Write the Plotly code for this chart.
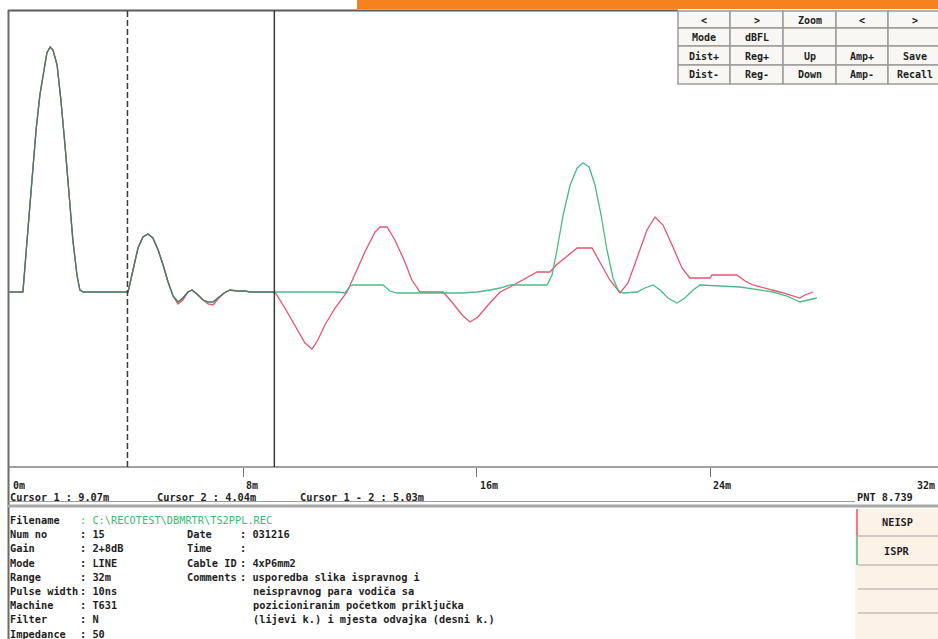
import plotly.graph_objects as go

# ---------------- data ----------------
dist_ispr = [0, 0.46, 0.63, 0.80, 0.91, 1.04, 1.18, 1.28, 1.39, 1.49, 1.63, 1.76, 1.90, 2.04, 2.17, 2.31, 2.41, 2.52,
             4.06, 4.23, 4.40, 4.57, 4.74, 4.91, 5.09, 5.26, 5.43, 5.60, 5.77, 5.94, 6.11, 6.25, 6.42, 6.63, 6.80, 6.97,
             7.14, 7.35, 7.55, 7.79, 8.07, 8.24, 9.09,
             11.22, 11.49, 11.66, 11.76, 12.79, 13.03, 13.27, 15.43, 16.01, 16.46, 16.80, 17.14, 18.41, 18.58, 18.75,
             18.96, 19.20, 19.44, 19.64, 19.85, 20.05, 20.26, 20.46, 20.67, 20.84, 21.01, 21.49, 21.76, 22.04, 22.28,
             22.55, 22.86, 23.13, 23.41, 23.65, 25.02, 25.70, 26.15, 26.63, 27.07, 27.35, 27.65]
amp_ispr = [0, 0, 62, 122, 162, 197, 224, 239, 245, 242, 227, 192, 147, 97, 52, 17, 2, 0,
            0, 22, 44, 55, 58, 54, 42, 27, 10, -4, -10, -6, 0, 2, -2, -8, -10, -10,
            -6, -1, 2, 1, 1, 0, 0,
            0, -1, 6, 7, 7, 1, -1, -1, 0, 2, 4, 7, 7, 17, 42,
            77, 107, 124, 129, 125, 107, 77, 42, 14, 2, -1, 0, 4, 7, 2,
            -6, -11, -6, 2, 7, 5, 2, 0, -4, -10, -8, -6]

dist_neisp = [0, 0.46, 0.63, 0.80, 0.91, 1.04, 1.18, 1.28, 1.39, 1.49, 1.63, 1.76, 1.90, 2.04, 2.17, 2.31, 2.41, 2.52,
              4.06, 4.23, 4.40, 4.57, 4.74, 4.91, 5.09, 5.26, 5.43, 5.60, 5.77, 5.94, 6.11, 6.25, 6.42, 6.63, 6.80, 6.97,
              7.14, 7.35, 7.55, 7.79, 8.07, 8.24, 9.09,
              9.43, 9.78, 10.12, 10.36, 10.56, 10.80, 11.15, 11.56, 11.83, 12.17, 12.52, 12.69, 12.93, 13.20, 13.54,
              13.78, 14.06, 14.85, 15.15, 15.50, 15.77, 16.04, 16.39, 16.80, 17.14, 17.59, 18.07, 18.51, 18.72, 19.02,
              19.44, 19.95, 20.22, 20.56, 20.91, 21.18, 21.49, 21.83, 22.11, 22.38, 22.69, 23.03, 23.30, 23.99, 24.06,
              24.91, 25.19, 25.46, 26.39, 27.07, 27.24, 27.52]
amp_neisp = [0, 0, 62, 122, 162, 197, 224, 239, 245, 242, 227, 192, 147, 97, 52, 17, 2, 0,
             0, 22, 44, 55, 58, 54, 42, 27, 10, -4, -12, -8, 0, 2, -2, -8, -12, -13,
             -7, -1, 2, 1, 1, 0, 0,
             -16, -34, -51, -57, -48, -33, -16, 0, 17, 40, 60, 65, 65, 52, 30,
             12, 0, 0, -10, -23, -30, -25, -13, 0, 5, 12, 20, 20, 27, 34,
             44, 44, 30, 12, -1, 9, 34, 62, 75, 67, 47, 24, 14, 14, 17,
             17, 11, 7, 0, -6, -3, 0]

cursor_1_m = 9.07
cursor_2_m = 4.04
tick_vals = [0, 8, 16, 24, 32]
tick_text = ["0m", "8m", "16m", "24m", "32m"]
cursor_texts = ["Cursor 1 : 9.07m", "Cursor 2 : 4.04m", "Cursor 1 - 2 : 5.03m"]
info_left_labels = ["Filename", "Num no", "Gain", "Mode", "Range", "Pulse width", "Machine", "Filter", "Impedance"]
info_left_values = [": C:\\RECOTEST\\DBMRTR\\TS2PPL.REC", ": 15", ": 2+8dB", ": LINE", ": 32m", ": 10ns",
                    ": T631", ": N", ": 50"]
info_right_labels = ["Date", "Time", "Cable ID", "Comments", "", "", ""]
info_right_values = [": 031216", ":", ": 4xP6mm2", ": usporedba slika ispravnog i", "neispravnog para vodiča sa",
                     "pozicioniranim početkom priključka", "(lijevi k.) i mjesta odvajka (desni k.)"]
button_labels = [["<", ">", "Zoom", "<", ">"],
                 ["Mode", "dBFL", "", "", ""],
                 ["Dist+", "Reg+", "Up", "Amp+", "Save"],
                 ["Dist-", "Reg-", "Down", "Amp-", "Recall"]]
series_names = ["NEISP", "ISPR"]
pnt_text = "PNT 8.739"

# ---------------- layout helpers ----------------
W, H = 938, 639
L, T, PW, PH = 9, 10, 929, 457
PXM = 29.2  # pixels per metre


def PX(px):
    return (px - L) / PW


def PY(py):
    return (T + PH - py) / PH


RED = "#e5566e"
GREEN = "#4cba86"
OVER = "#5e6b62"
TXT = "#1e1e1e"
FONT = "DejaVu Sans Mono"

fig = go.Figure()
fig.add_trace(go.Scatter(x=dist_neisp, y=amp_neisp, mode="lines", name=series_names[0],
                         line=dict(color=RED, width=1.3), hoverinfo="skip"))
fig.add_trace(go.Scatter(x=dist_ispr, y=amp_ispr, mode="lines", name=series_names[1],
                         line=dict(color=GREEN, width=1.3), hoverinfo="skip"))
ov_x = [d for d in dist_ispr if d <= cursor_1_m + 0.05]
ov_y = amp_ispr[:len(ov_x)]
fig.add_trace(go.Scatter(x=ov_x, y=ov_y, mode="lines", name="overlap",
                         line=dict(color=OVER, width=1.2), hoverinfo="skip"))

shapes = []
ann = []


def line(x0, y0, x1, y1, color, width=1, dash=None):
    d = dict(type="line", xref="paper", yref="paper", x0=PX(x0), x1=PX(x1), y0=PY(y0), y1=PY(y1),
             line=dict(color=color, width=width), layer="above")
    if dash:
        d["line"]["dash"] = dash
    shapes.append(d)


def rect(x0, y0, x1, y1, fill, lc=None, lw=0):
    shapes.append(dict(type="rect", xref="paper", yref="paper", x0=PX(x0), x1=PX(x1), y0=PY(y0), y1=PY(y1),
                       fillcolor=fill, line=dict(color=lc or fill, width=lw), layer="above"))


def text(x, y, s, color=TXT, size=10.3, anchor="left", bold=True):
    ann.append(dict(xref="paper", yref="paper", x=PX(x), y=PY(y), text=("<b>%s</b>" % s) if (bold and s) else s,
                    showarrow=False, xanchor=anchor, yanchor="middle",
                    font=dict(family=FONT, size=size, color=color)))


# orange top bar
rect(357, 0, 940, 9, "#f5821f")
# frame
line(8, 10.5, 678, 10.5, "#5c5c5c", 2)
line(8.5, 10, 8.5, 639, "#6a6a6a", 2)
line(8, 467, 940, 467, "#808080", 1.5)

# cursors (data-referenced)
shapes.append(dict(type="line", xref="x", yref="paper", x0=cursor_2_m, x1=cursor_2_m, y0=0, y1=1,
                   line=dict(color="#3a3a3a", width=1.5, dash="6px,3px")))
shapes.append(dict(type="line", xref="x", yref="paper", x0=cursor_1_m, x1=cursor_1_m, y0=0, y1=1,
                   line=dict(color="#3a3a3a", width=1.5)))

# tick labels
for v, t in zip(tick_vals, tick_text):
    px = 9.5 + v * PXM
    if px > 930:
        text(937, 485, t, size=10, anchor="right")
    else:
        text(max(px, 8) + 1, 485, t, size=10)

# cursor readouts
for x, s in zip([8, 155, 298], cursor_texts):
    text(x, 497, s)
line(8, 501.5, 855, 501.5, "#9a9a9a", 1)
line(8, 506, 940, 506, "#a8a8a8", 3)
text(855, 497, pnt_text)

# info block
for i, (lab, val) in enumerate(zip(info_left_labels, info_left_values)):
    y = 520 + 14.2 * i
    text(8, y, lab)
    text(78, y, val, color=("#3cb874" if i == 0 else TXT), bold=(i != 0))
for j, (lab, val) in enumerate(zip(info_right_labels, info_right_values)):
    y = 520 + 14.2 * (j + 1)
    if lab:
        text(185, y, lab)
        text(238, y, val)
    else:
        text(251, y, val)

# right legend panel
rect(855, 509, 940, 640, "#fdf2e8")
for yy in [536, 565, 589, 613]:
    line(858, yy, 940, yy, "#a4a4a4", 1.2)
line(857, 509, 857, 536, RED, 1.5)
line(857, 536, 857, 565, GREEN, 1.5)
text(897, 522, series_names[0], anchor="center")
text(897, 551, series_names[1], anchor="center")

# button grid
cols = [678, 730, 783, 836, 888, 941]
rows = [11, 28, 46, 65, 84]
for r in range(4):
    for c in range(5):
        rect(cols[c], rows[r], cols[c + 1], rows[r + 1], "#f8f7f3", "#9c9c9c", 1.5)
        lab = button_labels[r][c]
        if lab:
            text((cols[c] + cols[c + 1]) / 2, (rows[r] + rows[r + 1]) / 2 + 0.5, lab, size=10, anchor="center")

fig.update_layout(
    width=W, height=H, autosize=False,
    margin=dict(l=L, r=W - L - PW, t=T, b=H - T - PH, pad=0),
    paper_bgcolor="white", plot_bgcolor="white",
    showlegend=False,
    shapes=shapes, annotations=ann,
    xaxis=dict(range=[-0.5 / PXM, (W - 9.5) / PXM], showgrid=False, zeroline=False, showline=False,
               tickvals=tick_vals[1:4], ticks="outside", ticklen=9, tickcolor="#707070", tickwidth=1,
               showticklabels=False, fixedrange=True),
    yaxis=dict(range=[-175, 282], showgrid=False, zeroline=False, showline=False, showticklabels=False,
               ticks="", fixedrange=True),
)
fig.write_html("out.html", config={"displayModeBar": False, "staticPlot": True})

# remove the browser's default 8px body margin so the figure sits at the page origin
with open("out.html", "r", encoding="utf-8") as f:
    html = f.read()
html = html.replace("<body>", '<body style="margin:0;padding:0;overflow:hidden">', 1)
with open("out.html", "w", encoding="utf-8") as f:
    f.write(html)
